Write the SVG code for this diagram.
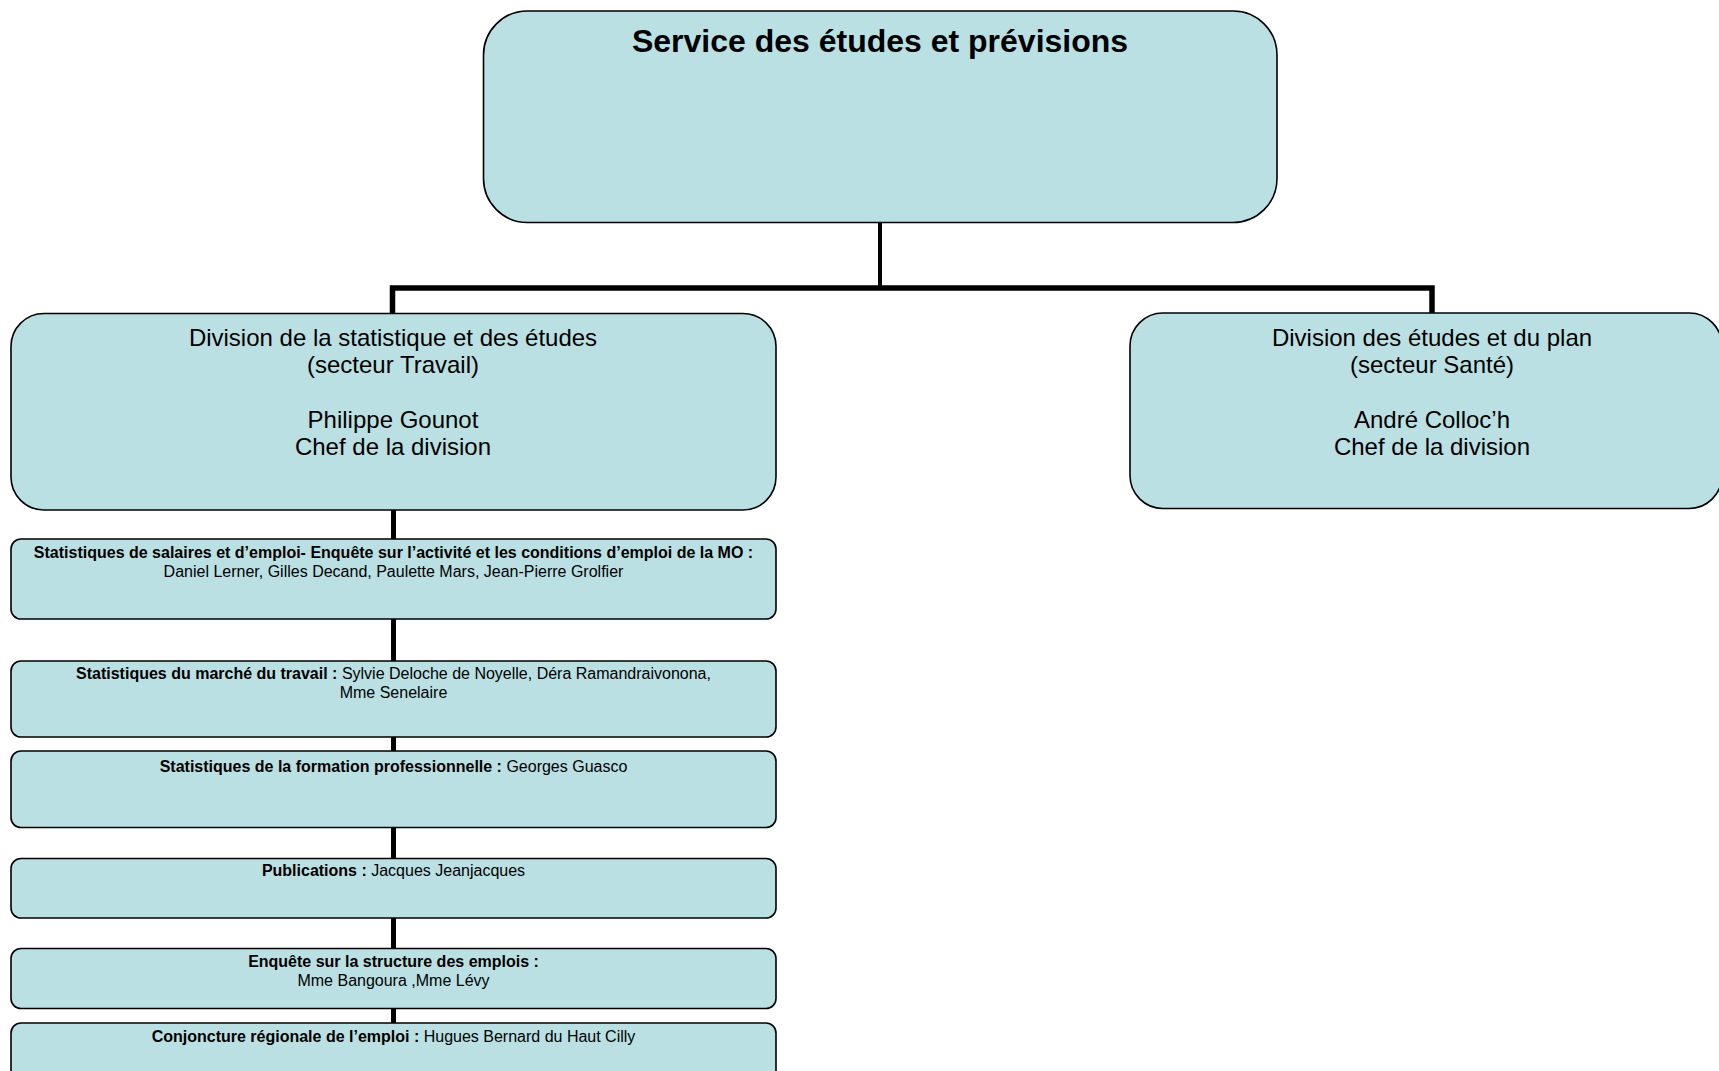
<svg xmlns="http://www.w3.org/2000/svg" width="1719" height="1071" viewBox="0 0 1719 1071">
<style>
.box{fill:#bae0e3;stroke:#000;stroke-width:1.6}
.conn{fill:none;stroke:#000;stroke-width:5;stroke-linejoin:miter}
.t{font-family:"Liberation Sans",Arial,sans-serif;fill:#000;text-anchor:middle}
.title{font-size:32px;font-weight:bold}
.div{font-size:24px}
.sub{font-size:16px}
.b{font-weight:bold}
</style>
<rect width="1719" height="1071" fill="#fff"/>
<g id="connectors">
<line class="conn" x1="880" y1="222" x2="880" y2="288" style="stroke-width:4"/>
<path class="conn" d="M392.5 313 V288 H1432 V313" style="stroke-width:5.5"/>
<line class="conn" x1="393.5" y1="510" x2="393.5" y2="1023"/>
</g>
<g id="service">
<rect class="box" x="483.5" y="11" width="793.5" height="211.5" rx="44" ry="44"/>
<text class="t title" x="880" y="52">Service des études et prévisions</text>
</g>
<g id="div-travail">
<rect class="box" x="11" y="313.5" width="765" height="196.5" rx="33" ry="33"/>
<text class="t div" x="393" y="346">Division de la statistique et des études</text>
<text class="t div" x="393" y="373">(secteur Travail)</text>
<text class="t div" x="393" y="428">Philippe Gounot</text>
<text class="t div" x="393" y="455">Chef de la division</text>
</g>
<g id="div-sante">
<rect class="box" x="1130" y="313" width="592" height="195.5" rx="33" ry="33"/>
<text class="t div" x="1432" y="346">Division des études et du plan</text>
<text class="t div" x="1432" y="373">(secteur Santé)</text>
<text class="t div" x="1432" y="428">André Colloc’h</text>
<text class="t div" x="1432" y="455">Chef de la division</text>
</g>
<g id="salaires">
<rect class="box" x="11" y="539" width="765" height="80" rx="10" ry="10"/>
<text class="t sub b" x="393.5" y="558">Statistiques de salaires et d’emploi- Enquête sur l’activité et les conditions d’emploi de la MO :</text>
<text class="t sub" x="393.5" y="577">Daniel Lerner, Gilles Decand, Paulette Mars, Jean-Pierre Grolfier</text>
</g>
<g id="marche">
<rect class="box" x="11" y="661" width="765" height="76" rx="10" ry="10"/>
<text class="t sub" x="393.5" y="679"><tspan class="b">Statistiques du marché du travail : </tspan>Sylvie Deloche de Noyelle, Déra Ramandraivonona,</text>
<text class="t sub" x="393.5" y="698">Mme Senelaire</text>
</g>
<g id="formation">
<rect class="box" x="11" y="751" width="765" height="76.5" rx="10" ry="10"/>
<text class="t sub" x="393.5" y="771.5"><tspan class="b">Statistiques de la formation professionnelle : </tspan>Georges Guasco</text>
</g>
<g id="publications">
<rect class="box" x="11" y="858.5" width="765" height="59.5" rx="10" ry="10"/>
<text class="t sub" x="393.5" y="876"><tspan class="b">Publications : </tspan>Jacques Jeanjacques</text>
</g>
<g id="structure">
<rect class="box" x="11" y="948.5" width="765" height="60" rx="10" ry="10"/>
<text class="t sub b" x="393.5" y="967">Enquête sur la structure des emplois :</text>
<text class="t sub" x="393.5" y="986">Mme Bangoura ,Mme Lévy</text>
</g>
<g id="conjoncture">
<rect class="box" x="11" y="1023" width="765" height="70" rx="10" ry="10"/>
<text class="t sub" x="393.5" y="1042"><tspan class="b">Conjoncture régionale de l’emploi : </tspan>Hugues Bernard du Haut Cilly</text>
</g>
</svg>
